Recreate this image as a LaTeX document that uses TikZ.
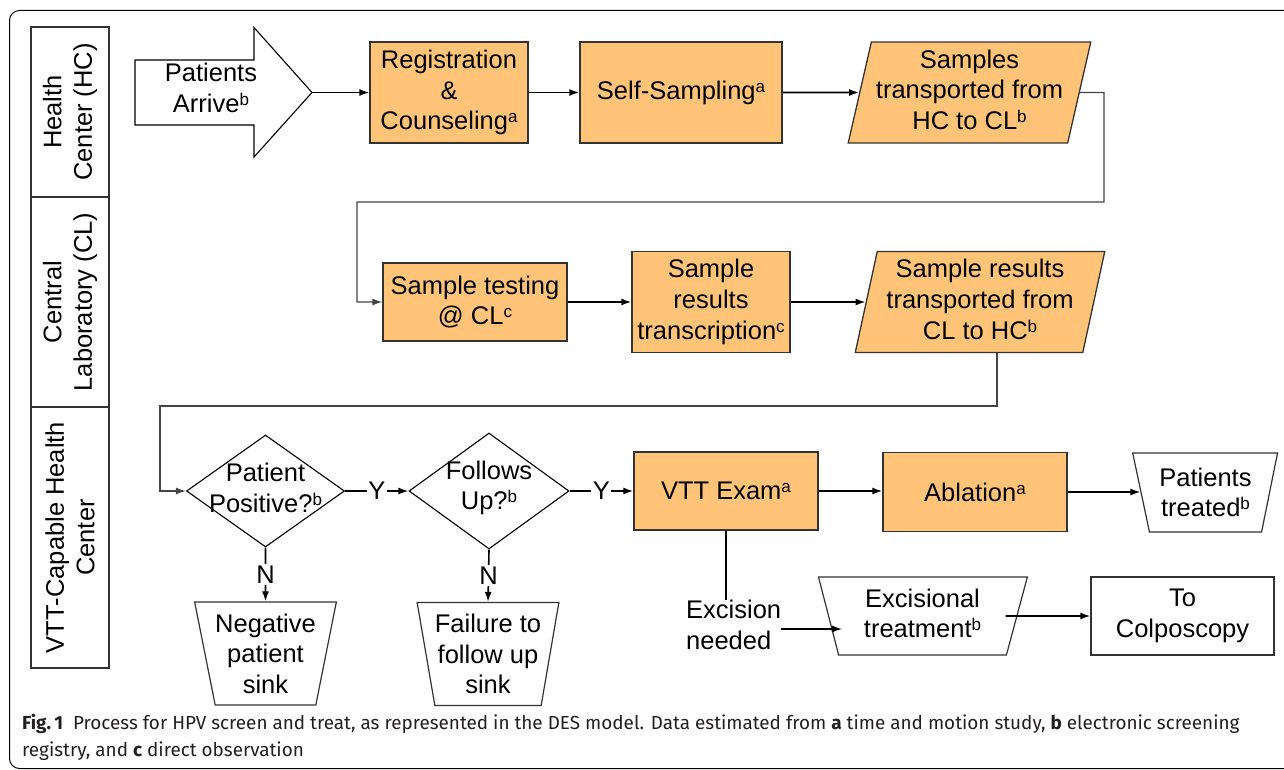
\documentclass[tikz,border=0pt]{standalone}
\usepackage{fontspec}
\setmainfont{Liberation Sans}
\newfontfamily\capfont{Fira Sans}
\usetikzlibrary{shapes.geometric,arrows.meta,calc}
\definecolor{boxfill}{HTML}{FFC478}
\definecolor{linec}{HTML}{333333}
\definecolor{elbc}{HTML}{444444}
\definecolor{capc}{HTML}{231F20}
\newcommand\supx[1]{\raisebox{7pt}{\fontsize{17}{17}\selectfont #1}}
\begin{document}
\begin{tikzpicture}[x=1pt,y=-1pt]
\tikzset{
  base/.style={font=\fontsize{25.5}{30.6}\selectfont, align=center, inner sep=0pt, text=black},
  proc/.style={base, rectangle, draw=linec, line width=1.3pt, fill=boxfill},
  wbox/.style={base, rectangle, draw=linec, line width=1.2pt, fill=white},
  para/.style={base, trapezium, trapezium stretches=true, draw=linec, line width=1.3pt, fill=boxfill},
  sink/.style={base, trapezium, trapezium stretches=true, draw=linec, line width=1.2pt, fill=white},
  dec/.style={base, diamond, draw=black, line width=1.1pt, fill=white},
  lane/.style={base, rectangle, draw=linec, line width=1.2pt, rotate=90, minimum height=78pt},
  arr/.style={-{Latex[length=10pt,width=7pt]}, line width=1.6pt, draw=black},
  elb/.style={-{Latex[length=10pt,width=7pt]}, line width=1.3pt, draw=elbc},
  lab/.style={base, fill=white, inner sep=1.5pt},
  capt/.style={font=\capfont\fontsize{18.9}{27}\selectfont, text=capc, inner sep=0pt}
}
\useasboundingbox (0,0) rectangle (1284,770);
% outer frame
\draw[rounded corners=10pt, line width=1pt] (9.5,10.5) rectangle (1320,768.5);

% swim lanes
\node[lane, minimum width=170pt] (hc) at (70,112) {Health\\Center (HC)};
\node[lane, minimum width=210pt] (cl) at (70,302) {Central\\Laboratory (CL)};
\node[lane, minimum width=261pt] (vtc) at (70,537.5) {VTT-Capable Health\\Center};

% patients arrive block arrow
\draw[line width=1.1pt, fill=white] (135,60) -- (254,60) -- (254,27.5) -- (312,92.5) -- (254,157) -- (254,125) -- (135,125) -- cycle;
\coordinate (arrivetip) at (312,92.5);
\node[base] (arrive) at (211,88) {Patients\\Arrive\supx{b}};

% row 1
\node[proc, minimum width=158pt, minimum height=101pt] (reg) at (449,92.5) {Registration\\\&\\Counseling\supx{a}};
\node[proc, minimum width=202pt, minimum height=101pt] (self) at (681,92.5) {Self-Sampling\supx{a}};
\node[para, minimum width=243pt, minimum height=101pt, trapezium left angle=75.5, trapezium right angle=104.5] (st1) at (969.5,92.5) {Samples\\transported from\\HC to CL\supx{b}\\[-25pt]};

% row 2
\node[proc, minimum width=184pt, minimum height=78pt] (test) at (475,302) {Sample testing\\@ CL\supx{c}};
\node[proc, minimum width=158pt, minimum height=101pt] (trans) at (711,302) {Sample\\results\\transcription\supx{c}};
\node[para, minimum width=250pt, minimum height=101pt, trapezium left angle=76.8, trapezium right angle=103.2] (st2) at (980,302) {Sample results\\transported from\\CL to HC\supx{b}\\[-25pt]};

% row 3
\node[dec, minimum width=158pt, minimum height=112pt] (d1) at (265.5,491) {};
\node[base] (d1t) at (265.5,488) {Patient\\Positive?\supx{b}};
\node[dec, minimum width=160pt, minimum height=116pt] (d2) at (489,491) {};
\node[base] (d2t) at (489,488) {Follows\\Up?\supx{b}};
\node[proc, minimum width=184pt, minimum height=78pt] (vtt) at (726,491) {VTT Exam\supx{a}};
\node[proc, minimum width=184pt, minimum height=79pt] (abl) at (975,492) {Ablation\supx{a}};
\node[sink, minimum width=145pt, minimum height=79pt, trapezium left angle=105.6, trapezium right angle=104.9] (treated) at (1205.5,492.5) {Patients\\treated\supx{b}};

\node[sink, minimum width=131pt, minimum height=103pt, trapezium left angle=104.4, trapezium right angle=104.4] (neg) at (265.5,653.5) {Negative\\patient\\sink};
\node[sink, minimum width=132pt, minimum height=103pt, trapezium left angle=102.5, trapezium right angle=102.5] (fail) at (488,654) {Failure to\\follow up\\sink};

\node[base, align=left, anchor=west] (excneed) at (686,625) {Excision\\needed};
\node[sink, minimum width=209pt, minimum height=78pt, trapezium left angle=104.4, trapezium right angle=105] (exc) at (922.5,616) {Excisional\\treatment\supx{b}\\[-25pt]};
\node[wbox, minimum width=183pt, minimum height=78pt] (colp) at (1182.5,616) {To\\Colposcopy};

% connectors row 1
\draw[arr] (arrivetip) -- (reg.west);
\draw[arr] (reg.east) -- (self.west);
\draw[arr] (self.east) -- (st1.west);
\draw[elb] (st1.east) -- (1104,92.5) -- (1104,202) -- (357,202) |- (test.west);
% row 2
\draw[arr] (test.east) -- (trans.west);
\draw[arr] (trans.east) -- (st2.west);
\draw[elb] ($(st2.south)+(17,0)$) |- (160,406) |- (d1.west);
% row 3
\draw[arr] (d1.east) -- node[lab] {Y} (d2.west);
\draw[arr] (d2.east) -- node[lab] {Y} (vtt.west);
\draw[arr] (d1.south) -- node[lab] {N} (neg.north);
\draw[arr] (d2.south) -- node[lab] {N} (fail.north);
\draw[arr] (vtt.east) -- (vtt.east -| abl.west);
\draw[arr] (abl.east) -- (abl.east -| treated.west);
\draw[line width=1.1pt] (vtt.south) -- (vtt.south |- excneed.north);
\draw[arr, line width=1.2pt] ($(excneed.east)+(0,4)$) -- ($(excneed.east -| exc.west)+(14,4)$);
\draw[arr] ($(exc.east)+(-12,0)$) -- (colp.west);

% caption
\node[capt, anchor=base west] (cap1) at (22,729) {\textbf{Fig.\,1}\hspace{10pt}Process for HPV screen and treat, as represented in the DES model. Data estimated from \textbf{a} time and motion study, \textbf{b} electronic screening};
\node[capt, anchor=base west] (cap2) at (22,756) {registry, and \textbf{c} direct observation};
\end{tikzpicture}
\end{document}
